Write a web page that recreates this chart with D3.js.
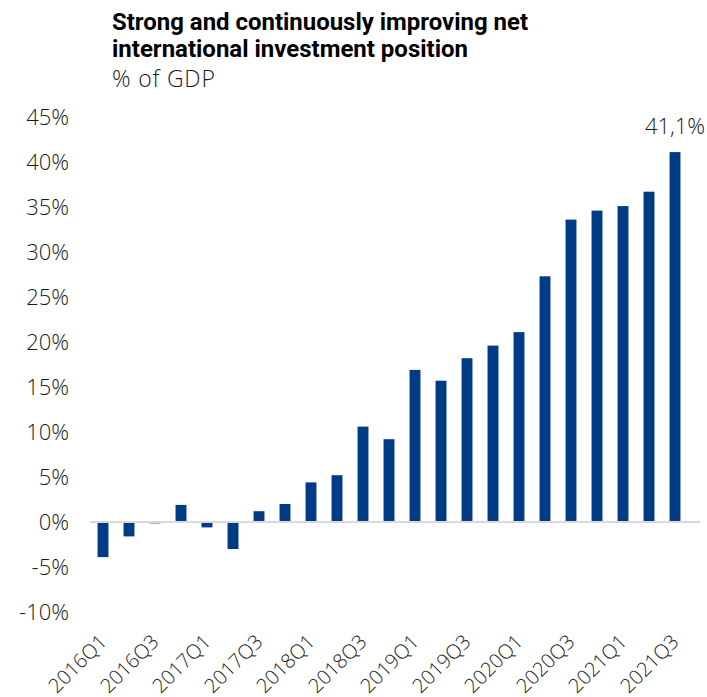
<!DOCTYPE html>
<html>
<head>
<meta charset="utf-8">
<script src="https://cdn.jsdelivr.net/npm/d3@7"></script>
<style>
  html, body { margin: 0; padding: 0; background: #fff; }
  svg { display: block; }
</style>
</head>
<body>
<svg id="chart" width="707" height="697"></svg>
<script>
// Net international investment position, % of GDP, quarterly
const quarters = [
  "2016Q1","2016Q2","2016Q3","2016Q4",
  "2017Q1","2017Q2","2017Q3","2017Q4",
  "2018Q1","2018Q2","2018Q3","2018Q4",
  "2019Q1","2019Q2","2019Q3","2019Q4",
  "2020Q1","2020Q2","2020Q3","2020Q4",
  "2021Q1","2021Q2","2021Q3"
];
const niipValues = [
  -3.9, -1.6, -0.15, 1.9,
  -0.6, -3.0, 1.2, 2.0,
  4.4, 5.2, 10.6, 9.2,
  16.9, 15.7, 18.2, 19.6,
  21.1, 27.3, 33.6, 34.6,
  35.1, 36.7, 41.1
];
const yTicks = [-10, -5, 0, 5, 10, 15, 20, 25, 30, 35, 40, 45];
const xTickLabels = quarters.filter((q, i) => i % 2 === 0);
const titleLines = ["Strong and continuously improving net", "international investment position"];
const subtitle = "% of GDP";
const highlightLabel = "41,1%";

const svg = d3.select("#chart");
const barColor = "#003c85";
const textColor = "#1a1a1a";
const lightFont = "'Open Sans', 'Noto Sans', sans-serif";

const x = d3.scaleBand()
  .domain(quarters)
  .range([90, 688])
  .paddingInner(0.58)
  .paddingOuter(0.29);

const y = d3.scaleLinear().domain([-10, 45]).range([612, 117]);

// Title block: two bold condensed lines
const titleWidths = [416, 356];
titleLines.forEach((t, i) => {
  svg.append("text")
    .attr("x", 112).attr("y", 30 + i * 26.5)
    .attr("font-family", "'Liberation Sans Narrow', 'Roboto', sans-serif")
    .attr("font-weight", 700)
    .attr("font-size", 23)
    .attr("textLength", titleWidths[i])
    .attr("lengthAdjust", "spacingAndGlyphs")
    .attr("fill", "#000")
    .text(t);
});
svg.append("text")
  .attr("x", 112).attr("y", 87)
  .attr("font-family", lightFont)
  .attr("font-weight", 300)
  .attr("font-size", 23)
  .attr("letter-spacing", 0.8)
  .attr("fill", textColor)
  .text(subtitle);

// Y axis labels (no axis line)
const yAxis = d3.axisLeft(y)
  .tickValues(yTicks)
  .tickSize(0)
  .tickPadding(0)
  .tickFormat(d => d + "%");
const yG = svg.append("g").attr("transform", "translate(69,0)").call(yAxis);
yG.select(".domain").remove();
yG.selectAll("text")
  .attr("font-family", lightFont)
  .attr("font-weight", 300)
  .attr("font-size", 22)
  .attr("fill", textColor)
  .attr("dy", "0.35em");

// Bars
svg.append("g").selectAll("rect")
  .data(quarters.map((q, i) => ({ q, v: niipValues[i] })))
  .join("rect")
  .attr("x", d => x(d.q))
  .attr("width", x.bandwidth())
  .attr("y", d => y(Math.max(0, d.v)))
  .attr("height", d => Math.abs(y(d.v) - y(0)))
  .attr("fill", barColor);

// Zero baseline
svg.append("line")
  .attr("x1", 90).attr("x2", 700)
  .attr("y1", y(0)).attr("y2", y(0))
  .attr("stroke", "#d9d9d9")
  .attr("stroke-width", 2);

// X axis labels, every other quarter, rotated
const xAxis = d3.axisBottom(x)
  .tickValues(xTickLabels)
  .tickSize(0)
  .tickPadding(0);
const xG = svg.append("g").attr("transform", "translate(0,633)").call(xAxis);
xG.select(".domain").remove();
xG.selectAll("text")
  .attr("font-family", lightFont)
  .attr("font-weight", 300)
  .attr("font-size", 20)
  .attr("fill", textColor)
  .attr("text-anchor", "end")
  .attr("dy", "0.71em")
  .attr("transform", "translate(-5,0) rotate(-45)");

// Value label on the latest bar
const last = quarters[quarters.length - 1];
svg.append("text")
  .attr("x", x(last) + x.bandwidth() / 2)
  .attr("y", y(niipValues[niipValues.length - 1]) - 18)
  .attr("text-anchor", "middle")
  .attr("font-family", lightFont)
  .attr("font-weight", 300)
  .attr("font-size", 22)
  .attr("fill", textColor)
  .text(highlightLabel);
</script>
</body>
</html>
